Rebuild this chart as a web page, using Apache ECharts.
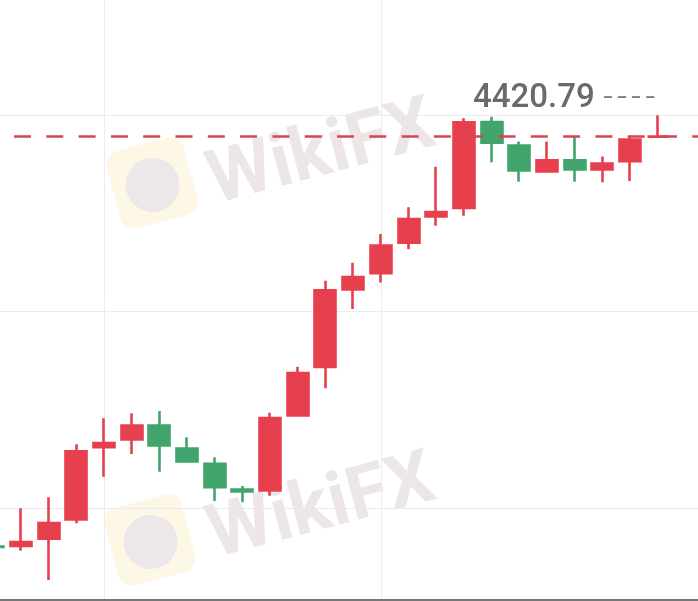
<!DOCTYPE html>
<html>
<head>
<meta charset="utf-8">
<title>4420.79</title>
<style>
  html, body { margin: 0; padding: 0; background: #fff; }
  #main { width: 698px; height: 601px; }
</style>
</head>
<body>
<div id="main"></div>
<script src="https://cdn.jsdelivr.net/npm/echarts@6.0.0/dist/echarts.min.js"></script>
<script>
// bar slots (two empty ones on the right, where the price line runs on)
const bars = ['1', '2', '3', '4', '5', '6', '7', '8', '9', '10', '11', '12', '13', '14',
  '15', '16', '17', '18', '19', '20', '21', '22', '23', '24', '25', '26', '27'];

const openPrices = [4397.84, 4397.87, 4398.28, 4399.36, 4403.41, 4403.84, 4404.62, 4403.33,
  4402.47, 4401.03, 4400.98, 4405.18, 4407.89, 4412.23, 4413.15, 4414.85, 4416.32, 4416.79,
  4421.61, 4420.29, 4418.84, 4419.47, 4418.95, 4419.42, 4420.79];
const closePrices = [4397.82, 4398.10, 4399.16, 4403.18, 4403.64, 4404.62, 4403.50, 4402.61,
  4401.17, 4400.93, 4405.04, 4407.56, 4412.19, 4412.93, 4414.69, 4416.18, 4416.57, 4421.59,
  4420.45, 4418.90, 4419.47, 4418.95, 4419.28, 4420.63, 4420.79];
const lowPrices = [4397.80, 4397.61, 4395.97, 4399.14, 4401.75, 4403.02, 4402.03, 4402.54,
  4400.39, 4400.32, 4400.69, 4405.11, 4406.70, 4411.14, 4412.63, 4414.48, 4415.80, 4416.36,
  4419.35, 4418.27, 4418.77, 4418.27, 4418.23, 4418.31, 4420.79];
const highPrices = [4397.86, 4399.98, 4400.60, 4403.57, 4405.02, 4405.30, 4405.43, 4403.96,
  4402.84, 4401.23, 4405.33, 4407.91, 4412.72, 4413.73, 4415.34, 4416.83, 4419.11, 4421.82,
  4421.90, 4420.51, 4420.51, 4420.79, 4419.67, 4420.79, 4421.98];

const lastPrice = 4420.79;

const upColor = '#e6404e';
const downColor = '#41a46c';

const candles = openPrices.map((o, i) => [o, closePrices[i], lowPrices[i], highPrices[i]]);

const myChart = echarts.init(document.getElementById('main'));

const wikiText = (x, y) => ({
  type: 'text', x: x, y: y, rotation: 0.26, z: 1, silent: true,
  style: {
    text: 'WikiFX', fontFamily: 'Roboto', fontWeight: 'bold', fontSize: 74,
    fill: '#ece6e6', align: 'center', verticalAlign: 'middle'
  }
});
const wikiLogo = (x, y) => ({
  type: 'group', x: x, y: y, rotation: 0.26, z: 1, silent: true,
  children: [
    { type: 'rect', shape: { x: -40, y: -40, width: 80, height: 80, r: 14 }, style: { fill: '#fdf7e6' } },
    { type: 'circle', shape: { cx: 0, cy: 2, r: 27 }, style: { fill: '#ede7e9' } }
  ]
});

const option = {
  animation: false,
  textStyle: { fontFamily: 'Roboto' },
  graphic: [wikiLogo(152, 183), wikiText(322, 156), wikiLogo(150, 540), wikiText(322, 510)],
  grid: { left: -6.7, right: -15, top: -81.5, bottom: -103.5, outerBoundsMode: 'none' },
  xAxis: {
    type: 'category',
    data: bars,
    boundaryGap: false,
    offset: -105,
    axisLine: { show: true, onZero: false, lineStyle: { color: '#767676', width: 2 } },
    axisTick: { show: false },
    axisLabel: { show: false },
    splitLine: {
      show: true,
      interval: (i) => i === 4 || i === 14,
      lineStyle: { color: '#ececec', width: 1 }
    }
  },
  yAxis: {
    type: 'value',
    min: 4389,
    max: 4433,
    interval: 11,
    axisLine: { show: false },
    axisTick: { show: false },
    axisLabel: { show: false },
    splitLine: { show: true, lineStyle: { color: '#ececec', width: 1 } }
  },
  series: [{
    type: 'candlestick',
    data: candles,
    barWidth: 21.5,
    itemStyle: {
      color: upColor,
      color0: downColor,
      borderColor: upColor,
      borderColor0: downColor,
      borderColorDoji: upColor,
      borderWidth: 2.6
    },
    markLine: {
      silent: true,
      symbol: ['none', 'none'],
      lineStyle: { color: '#d5464f', width: 2.5, type: [17, 15.3], dashOffset: 11.6 },
      label: {
        show: true,
        position: 'insideEndTop',
        distance: [58, 21],
        formatter: () => '{p|' + lastPrice.toFixed(2) + '}{d|  \u2013 \u2013 \u2013 \u2013}',
        rich: {
          p: { fontFamily: 'Roboto', fontWeight: 500, fontSize: 33, color: '#6a6a6a' },
          d: { fontFamily: 'Roboto', fontWeight: 'bold', fontSize: 16, color: '#7c7c7c' }
        }
      },
      data: [{ yAxis: lastPrice }]
    }
  }]
};

option && myChart.setOption(option);
</script>
</body>
</html>
